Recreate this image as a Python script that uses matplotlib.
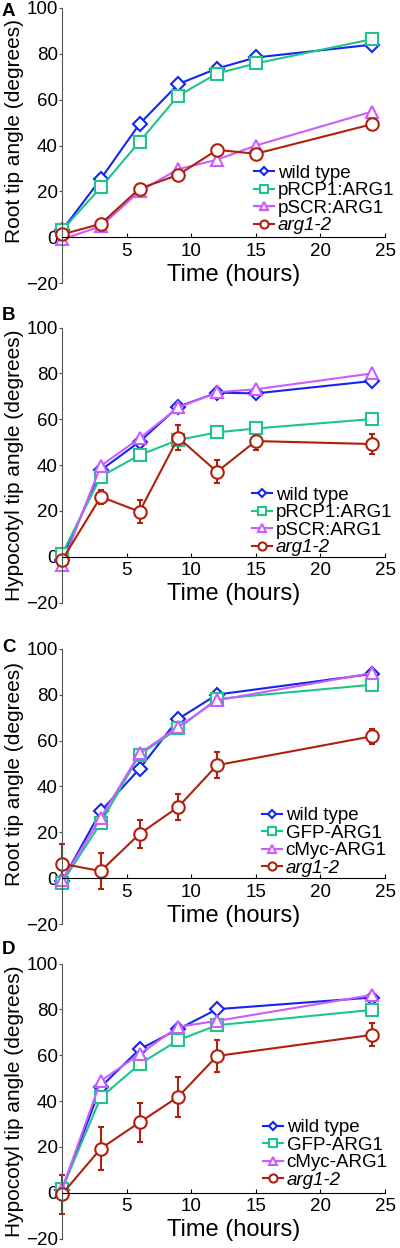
import matplotlib
matplotlib.use("Agg")
from matplotlib import pyplot as plt

plt.rcParams["font.family"] = ["Liberation Sans", "DejaVu Sans"]

hours_ab = [0, 3, 6, 9, 12, 15, 24]
hours_cd = [0, 3, 6, 9, 12, 24]

# panel A - root, promoter lines
a_wt = [3, 25.4, 49.4, 66.8, 73.6, 78.4, 84]
a_rcp = [3, 21.7, 41.7, 61.7, 71.4, 75.8, 86.4]
a_scr = [-1, 4.8, 20, 29.7, 33.8, 40, 54.8]
a_arg = [1.2, 5.8, 21.2, 27.2, 38.1, 36.4, 49.3]
a_arg_err = [2.5, 1.5, 1.5, 1.5, 2, 1.5, 1.5]

# panel B - hypocotyl, promoter lines
b_wt = [-1.5, 37.8, 50.2, 65.5, 71.6, 71.3, 76.7]
b_rcp = [1.2, 35, 44.4, 51, 54.3, 56, 60.1]
b_scr = [-3.6, 39.7, 51.7, 65.2, 71.8, 73.1, 80]
b_arg = [-1.5, 26.2, 19.7, 52, 37.1, 50.5, 49.2]
b_arg_err = [1, 3, 5, 5.5, 5, 4, 4.4]

# panel C - root, tagged lines
c_wt = [-1.3, 29.2, 47.7, 69.5, 80.1, 89.1]
c_gfp = [-2, 24.1, 53.9, 65.3, 78.2, 84.4]
c_myc = [-0.9, 26.3, 54.4, 66, 77.6, 89.5]
c_arg = [6.3, 3.1, 19.3, 31.1, 49.3, 61.9]
c_arg_err = [8.7, 8, 6, 5.8, 5.7, 3.2]

# panel D - hypocotyl, tagged lines
d_wt = [1.2, 46.2, 62.6, 71.4, 80.1, 85.2]
d_gfp = [1.6, 41.6, 56.1, 66.6, 73.1, 79.8]
d_myc = [1.6, 48.8, 60.5, 72.4, 75, 86.3]
d_arg = [-0.6, 19.3, 30.7, 41.9, 59.7, 68.9]
d_arg_err = [8.5, 9.4, 8.4, 8.7, 6.8, 5]

blue = "#1525f0"
green = "#1fc48a"
violet = "#cc5cff"
red = "#b0200c"

fig = plt.figure(figsize=(4, 12.48), dpi=100)

panels = [
    ("A", 0.7732, "Root tip angle (degrees)", 0.553, hours_ab,
     [("wild type", a_wt, None), ("pRCP1:ARG1", a_rcp, None),
      ("pSCR:ARG1", a_scr, None), ("arg1-2", a_arg, a_arg_err)],
     (0.594, 0.43), 12),
    ("B", 0.5171, "Hypocotyl tip angle (degrees)", 0.5, hours_ab,
     [("wild type", b_wt, None), ("pRCP1:ARG1", b_rcp, None),
      ("pSCR:ARG1", b_scr, None), ("arg1-2", b_arg, b_arg_err)],
     (0.588, 0.422), 315),
    ("C", 0.2596, "Root tip angle (degrees)", 0.547, hours_cd,
     [("wild type", c_wt, None), ("GFP-ARG1", c_gfp, None),
      ("cMyc-ARG1", c_myc, None), ("arg1-2", c_arg, c_arg_err)],
     (0.619, 0.425), 648),
    ("D", 0.0075, "Hypocotyl tip angle (degrees)", 0.5, hours_cd,
     [("wild type", d_wt, None), ("GFP-ARG1", d_gfp, None),
      ("cMyc-ARG1", d_myc, None), ("arg1-2", d_arg, d_arg_err)],
     (0.622, 0.435), 950),
]

styles = [(blue, "D", 7), (green, "s", 9), (violet, "^", 9), (red, "o", 9)]

for letter, bottom, ylab, ylab_y, xs, series, leg_pos, letter_y in panels:
    ax = fig.add_axes([0.155, bottom, 0.8075, 0.2204])
    handles = []
    for (label, ys, err), (col, mk, ms) in zip(series, styles):
        cont = ax.errorbar(xs, ys, yerr=err, color=col, marker=mk, ms=ms,
                           mfc="white", mec=col, mew=1.5, lw=1.5, capsize=2.5,
                           elinewidth=1.5, label=label, clip_on=False)
        handles.append(cont.lines[0])
    ax.set_xlim(0, 25)
    ax.set_ylim(-20, 100)
    ax.spines["top"].set_visible(False)
    ax.spines["right"].set_visible(False)
    ax.spines["bottom"].set_position(("data", 0))
    ax.spines["left"].set_color("#555555")
    ax.set_xticks([5, 10, 15, 20, 25])
    ax.set_yticks([-20, 0, 20, 40, 60, 80, 100])
    ax.tick_params(axis="x", direction="in", length=3, labelsize=13.5, pad=4)
    ax.tick_params(axis="y", direction="out", length=2, labelsize=13.5, pad=1,
                   color="#555555")
    ax.set_ylabel(ylab, fontsize=15)
    ax.yaxis.set_label_coords(-0.118, ylab_y)
    ax.text(0.53, 0.03, "Time (hours)", fontsize=17, ha="center", va="center",
            transform=ax.transAxes)
    leg = ax.legend(handles, [s[0] for s in series], loc="upper left",
                    bbox_to_anchor=leg_pos, frameon=False,
                    fontsize=13.5, borderpad=0, borderaxespad=0,
                    handlelength=1.07, handletextpad=0.2, labelspacing=0.02,
                    markerscale=0.65)
    leg.get_texts()[3].set_style("italic")
    fig.text(0.005, 1 - letter_y / 1248, letter, fontsize=13.5,
             fontweight="bold", va="center")

fig.savefig("out.png", dpi=100)
